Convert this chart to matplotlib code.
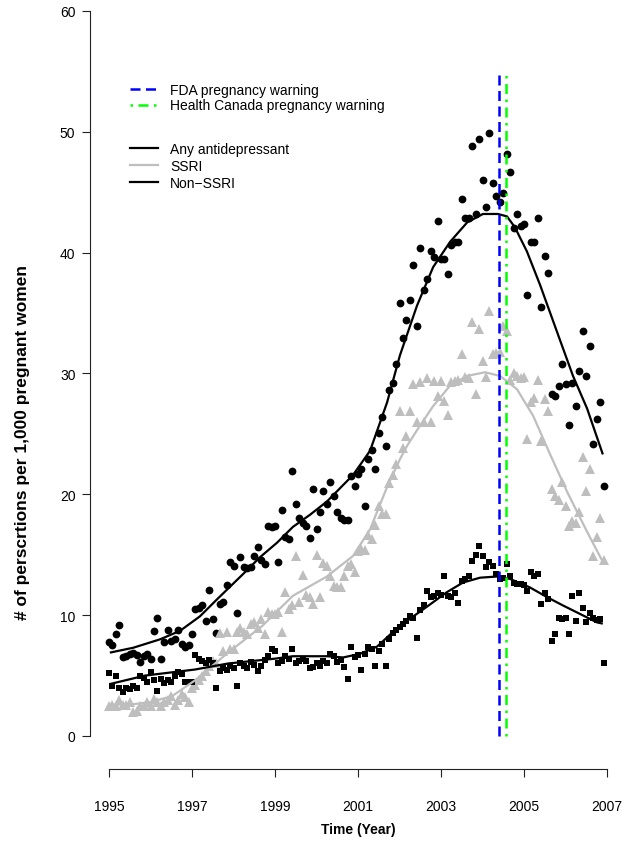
import numpy as np
import matplotlib
matplotlib.use("Agg")
import matplotlib.pyplot as plt
from matplotlib.lines import Line2D

plt.rcParams['font.family'] = ['Liberation Sans', 'DejaVu Sans']

# monthly rates per 1,000 pregnant women, Jan 1995 - Dec 2006
any_ad = [7.8, 7.5, 8.4, 9.2, 6.5, 6.6, 6.8, 6.9, 6.7, 6.1, 6.6, 6.8,
          6.4, 8.7, 9.8, 6.4, 7.8, 8.8, 7.9, 8.0, 8.8, 7.6, 7.4, 7.5,
          8.4, 10.5, 10.6, 10.8, 9.5, 12.1, 9.7, 8.5, 10.9, 11.1, 12.5, 14.4,
          14.1, 10.2, 14.8, 14.0, 13.9, 14.0, 14.9, 15.6, 14.6, 14.2, 17.4, 17.3,
          17.4, 14.4, 18.7, 16.5, 16.3, 21.9, 19.2, 18.0, 17.6, 17.4, 16.4, 20.4,
          17.1, 18.5, 20.3, 19.2, 21.0, 19.9, 18.5, 18.0, 17.9, 17.9, 21.5, 20.7,
          21.7, 22.1, 19.0, 22.9, 23.7, 22.1, 25.1, 26.4, 24.0, 28.6, 29.2, 30.8,
          35.8, 32.9, 34.4, 36.1, 39.0, 33.9, 40.4, 36.9, 37.8, 40.1, 39.6, 42.6,
          39.5, 39.5, 38.2, 40.6, 40.9, 40.9, 44.4, 42.9, 42.9, 48.8, 43.2, 49.4,
          46.0, 43.8, 49.9, 45.8, 44.7, 44.2, 44.9, 48.2, 46.7, 42.0, 43.2, 42.2,
          42.4, 36.5, 40.9, 40.9, 42.9, 35.5, 39.7, 38.3, 28.3, 28.1, 29.0, 30.8,
          29.1, 25.7, 29.2, 27.3, 30.2, 33.5, 29.8, 32.3, 24.2, 26.2, 27.6, 20.7]

ssri = [2.5, 2.6, 2.5, 3.0, 2.6, 2.6, 2.8, 2.0, 2.1, 2.5, 2.5, 2.8,
        2.5, 3.1, 2.8, 2.5, 2.8, 3.0, 3.3, 2.6, 3.0, 3.5, 3.2, 2.8,
        4.0, 4.2, 4.6, 5.0, 5.4, 5.8, 6.2, 6.0, 8.5, 7.0, 8.6, 7.2,
        7.2, 8.6, 8.9, 8.6, 8.4, 9.3, 9.4, 8.9, 9.7, 8.4, 10.3, 10.1,
        10.1, 10.3, 8.6, 11.9, 10.5, 10.8, 14.9, 11.1, 13.3, 11.7, 11.5, 10.9,
        15.0, 11.5, 14.3, 14.1, 13.2, 12.4, 12.3, 12.3, 13.2, 14.1, 14.2, 13.6,
        15.3, 15.5, 15.4, 16.6, 16.3, 17.5, 19.0, 18.4, 18.4, 20.9, 21.6, 22.5,
        26.9, 23.8, 24.8, 26.9, 29.1, 26.0, 29.3, 26.0, 29.6, 26.0, 29.4, 28.1,
        29.4, 27.7, 26.6, 29.3, 29.4, 29.5, 31.6, 29.7, 29.6, 34.3, 28.3, 33.7,
        31.0, 29.7, 35.2, 31.6, 31.7, 31.8, 33.9, 33.5, 29.5, 30.0, 29.8, 29.6,
        29.7, 24.6, 27.6, 28.0, 29.5, 24.4, 27.9, 26.9, 20.4, 19.9, 19.5, 21.0,
        19.0, 17.4, 17.8, 17.6, 18.5, 23.1, 20.3, 22.1, 14.9, 16.5, 18.0, 14.6]

non_ssri = [5.2, 4.1, 5.0, 4.0, 3.6, 4.0, 3.9, 4.1, 4.0, 5.0, 4.8, 4.5,
            5.3, 4.6, 3.7, 4.7, 4.4, 4.6, 4.5, 5.0, 5.3, 5.1, 4.5, 4.5,
            4.5, 6.7, 6.4, 6.2, 6.0, 6.3, 6.0, 4.0, 5.4, 5.6, 5.5, 5.8,
            5.6, 4.1, 6.0, 5.8, 5.6, 6.1, 5.9, 5.4, 5.8, 6.3, 6.6, 7.2,
            7.0, 6.0, 6.2, 6.6, 6.4, 7.2, 6.0, 6.2, 6.4, 6.2, 5.6, 5.7,
            6.0, 5.8, 6.2, 6.0, 6.8, 6.6, 6.1, 6.3, 5.7, 4.7, 7.4, 6.5,
            6.7, 5.5, 6.8, 7.4, 7.2, 5.8, 7.0, 7.6, 5.8, 8.0, 8.5, 8.8,
            9.0, 9.3, 9.5, 9.9, 9.8, 8.1, 10.4, 10.8, 12.0, 11.5, 11.6, 11.8,
            11.7, 13.2, 11.6, 11.5, 11.8, 11.0, 12.8, 13.0, 13.2, 14.5, 15.0, 15.7,
            14.9, 14.0, 14.4, 14.1, 13.4, 13.0, 13.1, 14.2, 13.2, 12.7, 12.6, 12.6,
            12.5, 12.0, 13.6, 13.2, 13.4, 10.9, 11.8, 11.3, 7.9, 8.4, 9.8, 9.7,
            9.8, 8.4, 11.6, 9.5, 11.8, 10.6, 9.4, 10.2, 9.8, 9.6, 9.7, 6.0]

months = 1995 + np.arange(len(any_ad)) / 12

# smoothed trends
any_fit_t = [1995.02, 1995.58, 1996.23, 1996.71, 1997.19, 1997.60, 1998.23, 1998.64,
             1999.05, 1999.43, 1999.84, 2000.25, 2000.88, 2001.29, 2001.70, 2002.01,
             2002.42, 2002.81, 2003.22, 2003.63, 2004.01, 2004.37, 2004.59, 2004.78,
             2005.07, 2005.39, 2005.80, 2006.18, 2006.52, 2006.90]
any_fit_v = [6.9, 7.3, 8.0, 8.7, 9.9, 11.3, 13.4, 14.8,
             16.0, 17.3, 18.3, 19.4, 21.6, 23.6, 27.6, 31.5,
             35.6, 38.8, 40.9, 42.5, 43.2, 43.2, 43.0, 42.1,
             40.1, 37.3, 33.4, 29.8, 27.1, 23.3]

ssri_fit_t = [1995.00, 1995.51, 1995.99, 1996.52, 1997.07, 1997.87, 1998.69, 1999.43,
              2000.25, 2000.88, 2001.29, 2001.70, 2002.01, 2002.18, 2002.42, 2002.81,
              2003.22, 2003.63, 2004.06, 2004.42, 2004.83, 2005.22, 2005.63, 2006.04,
              2006.52, 2006.90]
ssri_fit_v = [2.6, 2.6, 2.8, 3.3, 4.6, 6.9, 9.1, 11.6,
              13.2, 14.9, 17.1, 20.6, 22.9, 24.0, 25.3, 27.3,
              29.0, 29.8, 30.1, 29.8, 28.7, 26.5, 23.3, 20.2,
              16.9, 14.4]

non_fit_t = [1995.02, 1995.87, 1997.07, 1997.87, 1999.00, 1999.43, 2000.25, 2000.64,
             2001.05, 2001.46, 2001.84, 2002.25, 2002.66, 2002.98, 2003.14, 2003.53,
             2003.94, 2004.35, 2004.66, 2005.14, 2005.55, 2005.94, 2006.35, 2006.76,
             2006.90]
non_fit_v = [4.3, 5.0, 5.5, 6.0, 6.4, 6.6, 6.6, 6.5,
             6.8, 7.4, 8.6, 9.7, 10.7, 11.5, 11.9, 12.7,
             13.1, 13.2, 13.0, 12.3, 11.5, 10.8, 10.1, 9.4,
             9.3]

fda_warning = 2004.40
hc_warning = 2004.56

warning_labels = ['FDA pregnancy warning', 'Health Canada pregnancy warning']
series_labels = ['Any antidepressant', 'SSRI', 'Non\u2212SSRI']

GREY = '#BEBEBE'

fig = plt.figure(figsize=(6.31, 8.45), dpi=100)
ax = fig.add_axes([90 / 631, 75 / 845, 541 / 631, 770 / 845])

ax.plot(months, any_ad, linestyle='', marker='o', markersize=5.6,
        color='black', markeredgewidth=0)
ax.plot(months, ssri, linestyle='', marker='^', markersize=6.5,
        color=GREY, markeredgewidth=0)
ax.plot(months, non_ssri, linestyle='', marker='s', markersize=5.0,
        color='black', markeredgewidth=0)

ax.plot(any_fit_t, any_fit_v, color='black', lw=1.6, solid_capstyle='butt')
ax.plot(ssri_fit_t, ssri_fit_v, color=GREY, lw=1.6, solid_capstyle='butt')
ax.plot(non_fit_t, non_fit_v, color='black', lw=1.6, solid_capstyle='butt')

fda_style = dict(color='#0000FF', lw=1.8, dashes=(4, 2.2))
hc_style = dict(color='#00FF00', lw=1.8, dashes=(1, 2.2, 4, 2.2))
ax.add_line(Line2D([fda_warning, fda_warning], [0, 55.1], **fda_style))
ax.add_line(Line2D([hc_warning, hc_warning], [0, 55.1], **hc_style))

ax.set_xlim(1994.542, 2007.578)
ax.set_ylim(-2.731, 60.99)

for side in ['top', 'right']:
    ax.spines[side].set_visible(False)
ax.spines['left'].set_bounds(0, 60)
ax.spines['bottom'].set_bounds(1995, 2007)
for side in ['left', 'bottom']:
    ax.spines[side].set_linewidth(0.8)
    ax.spines[side].set_color('#222222')

ax.set_xticks(range(1995, 2008, 2))
ax.set_yticks(range(0, 61, 10))
ax.tick_params(axis='both', direction='out', length=5.5, width=0.8,
               color='#222222', labelsize=10)
ax.tick_params(axis='x', pad=16)
ax.tick_params(axis='y', pad=5)

fig.text(358 / 631, 1 - 830 / 845, 'Time (Year)', ha='center', va='center',
         fontsize=10, fontweight='bold')
fig.text(23 / 631, 1 - 442 / 845, '# of perscrtions per 1,000 pregnant women',
         ha='center', va='center', rotation=90, fontsize=12.5, fontweight='bold')

h1 = [Line2D([], [], **fda_style), Line2D([], [], **hc_style)]
leg1 = ax.legend(h1, warning_labels, loc='upper left',
                 bbox_to_anchor=((130 - 90) / 541, (770 - 84) / 770),
                 frameon=False, fontsize=10, borderpad=0, borderaxespad=0,
                 handlelength=2.0, handletextpad=0.9, labelspacing=0.1)
ax.add_artist(leg1)

h2 = [Line2D([], [], color='black', lw=1.6),
      Line2D([], [], color=GREY, lw=1.6),
      Line2D([], [], color='black', lw=1.6)]
ax.legend(h2, series_labels, loc='upper left',
          bbox_to_anchor=((130 - 90) / 541, (770 - 143) / 770),
          frameon=False, fontsize=10, borderpad=0, borderaxespad=0,
          handlelength=2.0, handletextpad=0.9, labelspacing=0.2)

fig.savefig('out.png', dpi=100)
